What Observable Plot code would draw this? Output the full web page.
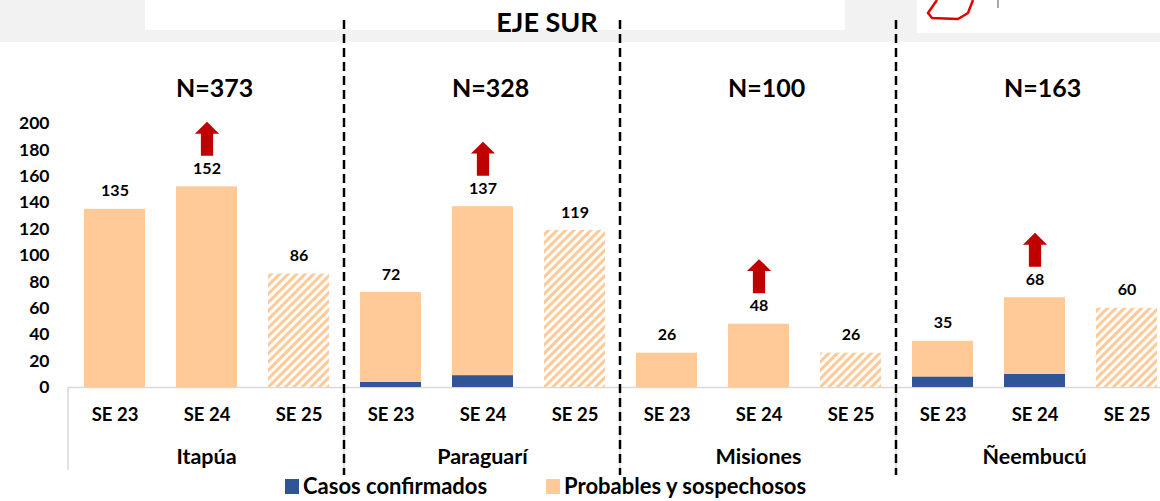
<!DOCTYPE html>
<html>
<head>
<meta charset="utf-8">
<script src="https://cdn.jsdelivr.net/npm/d3@7"></script>
<script src="https://cdn.jsdelivr.net/npm/@observablehq/plot@0.6"></script>
<style>
  html, body { margin: 0; padding: 0; background: #fff; overflow: hidden; }
  #wrap { position: relative; width: 1160px; height: 501px; overflow: hidden;
          font-family: Lato, "Open Sans", sans-serif; font-weight: 700; color: #000; }
  .band { position: absolute; left: 0; top: 0; width: 1160px; height: 42px; background: #f2f2f2; }
  .box { position: absolute; background: #fff; }
  #chart { position: absolute; left: 0; top: 0; }
  #title { position: absolute; left: 447px; width: 200px; top: 4px; text-align: center;
           font-size: 27px; line-height: 36px; }
  #legend { position: absolute; left: 285px; top: 474px; display: flex; align-items: center;
            font-size: 22px; line-height: 24px; white-space: nowrap; }
  #legend .sw { display: inline-block; width: 14px; height: 15px; margin-right: 4px; }
  #legend .item { display: flex; align-items: center; margin-right: 59px; }
  #map { position: absolute; left: 0; top: 0; }
</style>
</head>
<body>
<div id="wrap">
  <div class="band"></div>
  <div class="box" style="left:145px;top:0;width:700px;height:30px"></div>
  <div class="box" style="left:917px;top:0;width:243px;height:33px"></div>
  <svg id="map" width="1160" height="40"><path d="M937,0 L928,13 L932,18 L958,19 L968,13 L973,0" fill="none" stroke="#e00000" stroke-width="2.5" stroke-linejoin="round"/><line x1="998" y1="0" x2="998" y2="8" stroke="#555" stroke-width="1"/></svg>
  <div id="chart"></div>
  <div id="title">EJE SUR</div>
  <div id="legend"></div>
</div>
<script>
// ---- data ----
const provinces = ["Itapúa", "Paraguarí", "Misiones", "Ñeembucú"];
const weeks = ["SE 23", "SE 24", "SE 25"];
const totalCases = [
  [135, 152, 86],
  [72, 137, 119],
  [26, 48, 26],
  [35, 68, 60]
];
const confirmedCases = [
  [0, 0, 0],
  [4, 9, 0],
  [0, 0, 0],
  [8, 10, 0]
];
const provinceN = [373, 328, 100, 163];
const risingWeek = ["SE 24", "SE 24", "SE 24", "SE 24"];
const partialWeek = "SE 25";
const seriesNames = ["Casos confirmados", "Probables y sospechosos"];
const yTicks = [0, 20, 40, 60, 80, 100, 120, 140, 160, 180, 200];

// ---- styling ----
const BLUE = "#2F5597";
const PEACH = "#FFCA97";
const RED = "#C00000";
const FONT = "Lato, 'Open Sans', sans-serif";

// ---- tables ----
const rows = [];
const totalsRows = [];
provinces.forEach((p, i) => weeks.forEach((w, j) => {
  rows.push({province: p, week: w, series: seriesNames[0], value: confirmedCases[i][j]});
  rows.push({province: p, week: w, series: seriesNames[1], value: totalCases[i][j] - confirmedCases[i][j]});
  totalsRows.push({province: p, week: w, total: totalCases[i][j], rising: risingWeek[i] === w});
}));

// block up-arrow symbol
const upArrow = {
  draw(ctx, size) {
    const s = Math.sqrt(size / Math.PI);
    const hw = 0.71 * s, sw = 0.36 * s, hh = 0.7 * s;
    ctx.moveTo(0, -s);
    ctx.lineTo(hw, -s + hh);
    ctx.lineTo(sw, -s + hh);
    ctx.lineTo(sw, s);
    ctx.lineTo(-sw, s);
    ctx.lineTo(-sw, -s + hh);
    ctx.lineTo(-hw, -s + hh);
    ctx.closePath();
  }
};

const barFill = d => d.series === seriesNames[0] ? BLUE : (d.week === partialWeek ? "url(#hatch)" : PEACH);

const plot = Plot.plot({
  width: 1172,
  height: 501,
  marginLeft: 68,
  marginRight: 0,
  marginTop: 123,
  marginBottom: 114,
  style: {background: "transparent", fontFamily: FONT, fontWeight: "bold", fontSize: "17.5px",
          color: "#000", overflow: "visible", maxWidth: "none"},
  fx: {domain: provinces, padding: 0, axis: null, label: null},
  x: {domain: weeks, paddingInner: 0.34, paddingOuter: 0.17, axis: null, label: null},
  y: {domain: [0, 200], ticks: yTicks, tickSize: 0, tickPadding: 19, label: null, tickFormat: d3.format("d")},
  color: {type: "identity"},
  marks: [
    Plot.ruleY([0], {stroke: "#d9d9d9", strokeWidth: 1.5}),
    Plot.barY(rows, {fx: "province", x: "week", y: "value", fill: barFill}),
    Plot.text(totalsRows, {fx: "province", x: "week", y: "total", text: d => String(d.total),
      dy: -18, fontSize: 16, fontWeight: "bold", fill: "#000"}),
    Plot.dot(totalsRows.filter(d => d.rising), {fx: "province", x: "week", y: "total",
      symbol: upArrow, r: 17, fill: RED, stroke: "none", dy: -48}),
    Plot.text(provinces, {fx: d => d, text: (d, i) => "N=" + provinceN[i], frameAnchor: "top",
      lineAnchor: "middle", dy: -35, dx: 8, fontSize: 25, fontWeight: "bold", fill: "#000"}),
    Plot.text(totalsRows, {fx: "province", x: "week", text: "week", frameAnchor: "bottom",
      lineAnchor: "middle", dy: 28, fontSize: 18.5, fontWeight: "bold", fill: "#000"}),
    Plot.text(provinces, {fx: d => d, text: d => d, frameAnchor: "bottom",
      lineAnchor: "middle", dy: 70, fontSize: 21.5, fontWeight: "bold", fill: "#000"})
  ]
});

// hatch pattern for the partial week
const svg = d3.select(plot);
svg.insert("defs", ":first-child").html(
  `<pattern id="hatch" patternUnits="userSpaceOnUse" width="6" height="6" patternTransform="rotate(45)">
     <rect width="6" height="6" fill="#fff"/><rect width="3" height="6" fill="${PEACH}"/>
   </pattern>`);

// category boundaries and dashed group separators from the library's scales
const fx = plot.scale("fx");
const y = plot.scale("y");
const y0 = y.apply(0);
const edges = provinces.map(p => fx.apply(p)).concat([fx.apply(provinces[provinces.length - 1]) + fx.bandwidth]);
const deco = svg.append("g");
edges.forEach(x => {
  deco.append("line").attr("x1", x).attr("x2", x).attr("y1", y0).attr("y2", y0 + 83)
    .attr("stroke", "#d9d9d9").attr("stroke-width", 1.5);
});
edges.slice(1, -1).forEach(x => {
  deco.append("line").attr("x1", x).attr("x2", x).attr("y1", 20).attr("y2", y0 + 88)
    .attr("stroke", "#000").attr("stroke-width", 2.5).attr("stroke-dasharray", "9 5");
});

document.getElementById("chart").appendChild(plot);

// legend
const legend = d3.select("#legend");
[[seriesNames[0], BLUE], [seriesNames[1], PEACH]].forEach(([name, c]) => {
  const it = legend.append("div").attr("class", "item");
  it.append("span").attr("class", "sw").style("background", c);
  it.append("span").text(name);
});
</script>
</body>
</html>
